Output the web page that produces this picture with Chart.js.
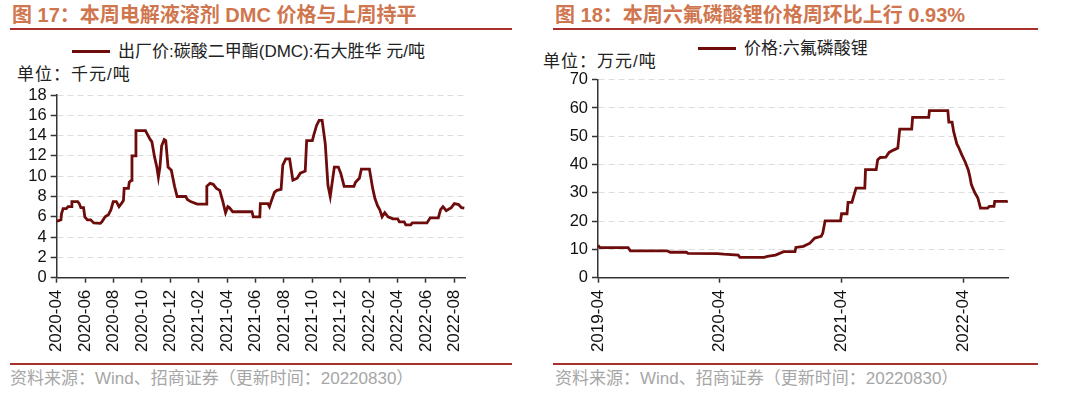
<!DOCTYPE html>
<html>
<head>
<meta charset="utf-8">
<script src="https://cdn.jsdelivr.net/npm/chart.js@4.4.0/dist/chart.umd.min.js"></script>
<style>
    body { margin: 0; background: #fff; font-family: "Liberation Sans", "Noto Sans CJK SC", sans-serif; }
    .wrap { position: relative; width: 1080px; height: 393px; overflow: hidden; }
    .title { position: absolute; top: 3px; font-size: 20px; line-height: 24px; font-weight: bold; color: #D0764E; white-space: nowrap; }
    .rule { position: absolute; height: 2px; background: #A8302C; }
    .legend { position: absolute; font-size: 17px; line-height: 20px; color: #222; white-space: nowrap; }
    .legend i { display: inline-block; width: 38px; height: 3px; background: #6E0C0C; vertical-align: middle; margin-right: 8px; position: relative; top: -1px; }
    .unit { position: absolute; font-size: 17px; line-height: 20px; letter-spacing: 1px; color: #222; white-space: nowrap; }
    .source { position: absolute; top: 369px; font-size: 17px; line-height: 20px; color: #A6A6A6; white-space: nowrap; }
    canvas { position: absolute; }
</style>
</head>
<body>
<div class="wrap">
    <div class="title" style="left:12px;">图 17：本周电解液溶剂 DMC 价格与上周持平</div>
    <div class="rule" style="left:10px; width:502px; top:28px;"></div>
    <div class="legend" style="left:72px; top:42px;"><i></i>出厂价:碳酸二甲酯(DMC):石大胜华 元/吨</div>
    <div class="unit" style="left:17px; top:65px;">单位：千元/吨</div>
    <div id="c1" style="position:absolute; left:0; top:80px; width:500px; height:280px;"><canvas id="dmcChart"></canvas></div>
    <div class="rule" style="left:10px; width:502px; top:363px;"></div>
    <div class="source" style="left:10px;">资料来源：Wind、招商证券（更新时间：20220830）</div>

    <div class="title" style="left:555px;">图 18：本周六氟磷酸锂价格周环比上行 0.93%</div>
    <div class="rule" style="left:553px; width:485px; top:28px;"></div>
    <div class="legend" style="left:698px; top:39px;"><i></i>价格:六氟磷酸锂</div>
    <div class="unit" style="left:543px; top:52px;">单位：万元/吨</div>
    <div id="c2" style="position:absolute; left:540px; top:65px; width:500px; height:295px;"><canvas id="lipfChart"></canvas></div>
    <div class="rule" style="left:553px; width:485px; top:363px;"></div>
    <div class="source" style="left:555px;">资料来源：Wind、招商证券（更新时间：20220830）</div>
</div>

<script>
// DMC price, x = months since 2020-04, y = 千元/吨
var dmcMonth = [0, 0.11, 0.3, 0.34, 0.45, 0.68, 0.8, 1.02, 1.07, 1.48, 1.59, 1.7, 1.89, 1.98, 2.16, 2.39, 2.61, 3.07, 3.18, 3.41,
    3.64, 3.82, 3.98, 4.2, 4.39, 4.55, 4.7, 4.75, 5.05, 5.11, 5.27, 5.3, 5.52, 5.58, 6.25, 6.36, 6.59, 6.7, 6.89, 7.05,
    7.16, 7.27, 7.39, 7.57, 7.68, 7.84, 8.07, 8.3, 8.48, 9.09, 9.2, 9.43, 9.89, 10.52, 10.57, 10.8, 11.02, 11.25, 11.48, 11.7,
    11.89, 12.05, 12.16, 12.39, 13.75, 13.84, 14.3, 14.34, 14.87, 14.98, 15.1, 15.33, 15.5, 15.8, 15.92, 16.13, 16.4, 16.63, 16.93, 17.15,
    17.5, 17.6, 18.0, 18.11, 18.3, 18.48, 18.69, 18.91, 19.1, 19.26, 19.55, 19.83, 20.0, 20.24, 20.93, 21.04, 21.31, 21.45, 22.02, 22.25,
    22.41, 22.59, 22.75, 22.91, 23.1, 23.33, 23.67, 24.01, 24.13, 24.47, 24.58, 24.93, 25.04, 26.07, 26.3, 26.87, 27.03, 27.2, 27.43, 27.78,
    28.0, 28.3, 28.5, 28.7];
var dmcPrice = [5.6, 5.6, 5.7, 6.3, 6.8, 6.8, 7.0, 7.0, 7.5, 7.5, 7.3, 6.9, 6.9, 6.0, 5.7, 5.7, 5.4, 5.35, 5.5, 6.0,
    6.2, 6.7, 7.5, 7.5, 7.0, 7.3, 7.6, 8.8, 8.8, 9.4, 9.6, 12.0, 12.0, 14.5, 14.5, 14.2, 13.6, 13.4, 11.9, 10.9,
    9.9, 10.9, 13.0, 13.6, 13.5, 10.9, 10.6, 9.0, 8.0, 8.0, 7.7, 7.5, 7.25, 7.25, 9.0, 9.3, 9.2, 8.8, 8.6, 7.5,
    6.4, 7.0, 6.9, 6.5, 6.5, 6.0, 6.0, 7.3, 7.3, 7.0, 7.5, 8.4, 8.6, 8.7, 11.1, 11.7, 11.7, 9.6, 9.8, 10.3,
    10.5, 13.5, 13.5, 14.1, 15.0, 15.5, 15.5, 13.2, 9.1, 8.0, 10.9, 10.9, 10.3, 9.0, 9.0, 9.4, 9.8, 10.7, 10.7, 8.8,
    7.8, 7.1, 6.7, 6.0, 6.4, 6.0, 5.8, 5.8, 5.5, 5.5, 5.2, 5.2, 5.4, 5.4, 5.9, 5.9, 6.7, 7.0, 6.6, 6.9,
    7.3, 7.2, 6.9, 6.85];
var dmcTickMonth = [0, 2, 4, 6, 8, 10, 12, 14, 16, 18, 20, 22, 24, 26, 28];
var dmcTickLabels = ['2020-04', '2020-06', '2020-08', '2020-10', '2020-12', '2021-02', '2021-04', '2021-06',
    '2021-08', '2021-10', '2021-12', '2022-02', '2022-04', '2022-06', '2022-08'];

// LiPF6 price, x = months since 2019-04, y = 万元/吨
var lipfMonth = [0, 0.19, 2.97, 3.19, 6.8, 7.12, 8.71, 8.87, 11.75, 12.38, 13.82, 13.98, 16.37, 16.69, 17.49, 18.29, 19.41, 19.5, 20.24, 20.88,
    21.36, 21.99, 22.15, 22.38, 23.9, 24.0, 24.54, 24.64, 25.02, 25.18, 25.43, 26.29, 26.36, 27.41, 27.56, 27.82, 28.36, 28.68, 29.16, 29.54,
    29.73, 30.91, 31.0, 32.59, 32.66, 34.47, 34.57, 34.89, 35.04, 35.36, 35.52, 35.84, 36.16, 36.48, 36.64, 36.79, 37.11, 37.43, 37.69, 38.39,
    38.55, 39.02, 39.09, 40.3, 40.36];
var lipfPrice = [11.4, 10.6, 10.6, 9.5, 9.5, 9.0, 9.0, 8.6, 8.5, 8.3, 8.0, 7.2, 7.2, 7.5, 8.0, 9.2, 9.2, 10.7, 11.1, 12.2,
    14.0, 14.6, 15.8, 20.1, 20.1, 22.6, 22.6, 26.6, 26.6, 28.7, 31.7, 31.7, 38.2, 38.2, 41.7, 42.5, 42.6, 44.3, 45.2, 45.8,
    52.5, 52.5, 56.7, 56.7, 59.1, 59.1, 55.0, 55.0, 51.7, 47.3, 46.2, 43.5, 41.1, 38.2, 35.8, 32.9, 30.2, 28.2, 24.6, 24.6,
    25.2, 25.2, 27.0, 27.0, 27.3];
var lipfTickMonth = [0, 12, 24, 36];
var lipfTickLabels = ['2019-04', '2020-04', '2021-04', '2022-04'];

var lineColor = '#6E0C0C';
var axisColor = '#333333';
var xTickFont = { family: '"Liberation Sans", Arial, sans-serif', size: 17 };
var yTickFont = { family: '"Liberation Sans", Arial, sans-serif', size: 16.5 };

function toPoints(xs, ys) {
    var pts = [];
    for (var i = 0; i < xs.length; i++) pts.push({ x: xs[i], y: ys[i] });
    return pts;
}

function makeChart(id, xs, ys, tickMonth, tickLabels, xMax, yMax, yStep, yAxisWidth, pad) {
    return new Chart(document.getElementById(id), {
        type: 'line',
        data: {
            datasets: [{
                data: toPoints(xs, ys),
                borderColor: lineColor,
                borderWidth: 2.8,
                pointRadius: 0,
                tension: 0,
                fill: false
            }]
        },
        options: {
            responsive: true,
            maintainAspectRatio: false,
            animation: false,
            layout: { padding: pad },
            plugins: {
                legend: { display: false },
                tooltip: { enabled: false }
            },
            scales: {
                x: {
                    type: 'linear',
                    min: 0,
                    max: xMax,
                    afterBuildTicks: function (scale) {
                        scale.ticks = tickMonth.map(function (v) { return { value: v }; });
                    },
                    afterFit: function (scale) { scale.height = 82.3; },
                    ticks: {
                        autoSkip: false,
                        minRotation: 90,
                        maxRotation: 90,
                        padding: 7,
                        color: '#111',
                        font: xTickFont,
                        callback: function (v) {
                            var i = tickMonth.indexOf(v);
                            return i >= 0 ? tickLabels[i] : '';
                        }
                    },
                    grid: { drawOnChartArea: false, tickLength: 5, tickColor: axisColor, tickWidth: 1.5 },
                    border: { color: axisColor, width: 1.5 }
                },
                y: {
                    min: 0,
                    max: yMax,
                    afterFit: function (scale) { scale.width = yAxisWidth; },
                    ticks: { stepSize: yStep, autoSkip: false, padding: 4, color: '#111', font: yTickFont },
                    grid: { color: '#DDDDDD', lineWidth: 1, tickLength: 6, tickColor: axisColor, tickWidth: 1.5 },
                    border: { color: axisColor, width: 1.5, dash: [6, 4] }
                }
            }
        }
    });
}

makeChart('dmcChart', dmcMonth, dmcPrice, dmcTickMonth, dmcTickLabels, 28.75, 18, 2, 56.7,
    { top: 15, right: 35, left: 0, bottom: 0 });
makeChart('lipfChart', lipfMonth, lipfPrice, lipfTickMonth, lipfTickLabels, 40.4, 70, 10, 58,
    { top: 14.7, right: 32, left: 0, bottom: 0 });
</script>
</body>
</html>
